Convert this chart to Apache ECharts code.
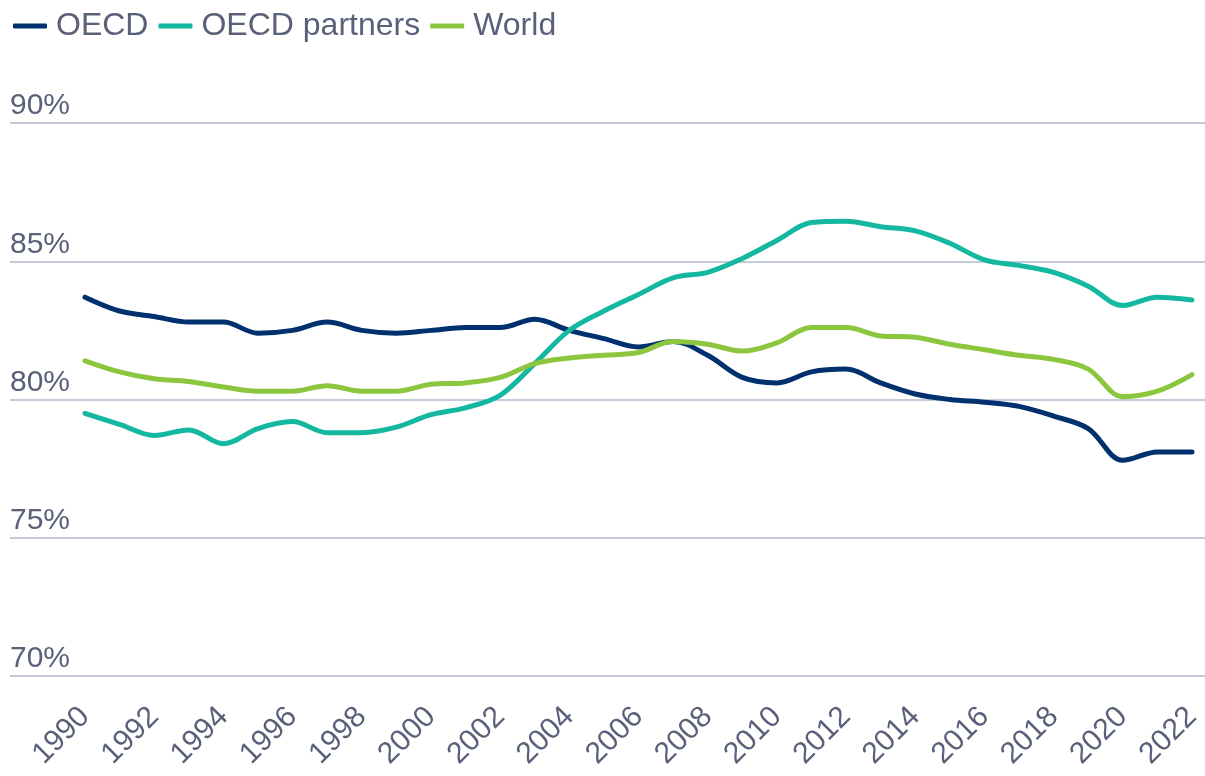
<!DOCTYPE html>
<html>
<head>
<meta charset="utf-8">
<script src="https://cdn.jsdelivr.net/npm/echarts@6/dist/echarts.min.js"></script>
<style>
  html, body { margin: 0; padding: 0; background: #fff; }
  #chart { width: 1205px; height: 776px; }
</style>
</head>
<body>
<div id="chart"></div>
<script>
const years = []
for (let y = 1990; y <= 2022; y++) years.push(String(y))

// values in %
const oecd = [83.7, 83.2, 83.0, 82.8, 82.8, 82.4, 82.5, 82.8, 82.5, 82.4, 82.5, 82.6, 82.6, 82.9, 82.5, 82.2, 81.9, 82.1, 81.6, 80.8, 80.6, 81.0, 81.1, 80.6, 80.2, 80.0, 79.9, 79.75, 79.4, 78.95, 77.8, 78.1, 78.1]
const partners = [79.5, 79.1, 78.7, 78.9, 78.4, 78.95, 79.2, 78.8, 78.8, 79.0, 79.45, 79.7, 80.15, 81.3, 82.5, 83.2, 83.8, 84.4, 84.6, 85.1, 85.75, 86.4, 86.45, 86.25, 86.1, 85.65, 85.05, 84.85, 84.6, 84.1, 83.4, 83.7, 83.6]
const world = [81.4, 81.0, 80.75, 80.65, 80.45, 80.3, 80.3, 80.5, 80.3, 80.3, 80.55, 80.6, 80.8, 81.3, 81.5, 81.6, 81.7, 82.1, 82.0, 81.75, 82.05, 82.6, 82.6, 82.3, 82.25, 82.0, 81.8, 81.6, 81.45, 81.1, 80.1, 80.3, 80.9]

const yMin = 70
const yMax = 90
const yStep = 5

const textColor = '#5a6079'
const font = 'Liberation Sans, Arial, sans-serif'

const myChart = echarts.init(document.getElementById('chart'))

const mkLine = (name, data, color) => ({
  name,
  type: 'line',
  data,
  xAxisIndex: 0,
  yAxisIndex: 0,
  smooth: 0.35,
  symbol: 'none',
  lineStyle: { color, width: 5, cap: 'round' },
  itemStyle: { color },
  emphasis: { disabled: true }
})

const option = {
  animation: false,
  textStyle: { fontFamily: font },
  legend: {
    left: 8,
    top: 5,
    icon: 'roundRect',
    itemWidth: 34,
    itemHeight: 5,
    itemGap: 10,
    textStyle: { fontSize: 32, color: textColor, fontFamily: font, padding: [0, 0, 0, 4] },
    data: ['OECD', 'OECD partners', 'World']
  },
  grid: [
    // plotting grid
    { left: 85, right: 13, top: 123, bottom: 100 },
    // gridlines / y labels across full width
    { left: 10, right: 0, top: 123, bottom: 100 }
  ],
  xAxis: [
    {
      gridIndex: 0,
      type: 'category',
      data: years,
      boundaryGap: false,
      axisLine: { show: false },
      axisTick: { show: false },
      axisLabel: {
        interval: 1,
        rotate: 45,
        margin: 36,
        fontSize: 30,
        color: textColor,
        fontFamily: font
      }
    },
    {
      gridIndex: 1,
      type: 'category',
      data: years,
      show: false
    }
  ],
  yAxis: [
    {
      gridIndex: 0,
      type: 'value',
      min: yMin,
      max: yMax,
      interval: yStep,
      show: false,
      splitLine: { show: false }
    },
    {
      gridIndex: 1,
      type: 'value',
      min: yMin,
      max: yMax,
      interval: yStep,
      axisLine: { show: false },
      axisTick: { show: false },
      axisLabel: {
        inside: true,
        margin: 0,
        verticalAlign: 'bottom',
        padding: [0, 0, 2, 0],
        fontSize: 30,
        color: textColor,
        fontFamily: font,
        formatter: v => v + '%'
      },
      splitLine: { lineStyle: { color: '#c5ccd9', width: 2 } }
    }
  ],
  series: [
    mkLine('OECD', oecd, '#00306e'),
    mkLine('OECD partners', partners, '#14b8a0'),
    mkLine('World', world, '#8cc63f')
  ]
}

myChart.setOption(option)
</script>
</body>
</html>
